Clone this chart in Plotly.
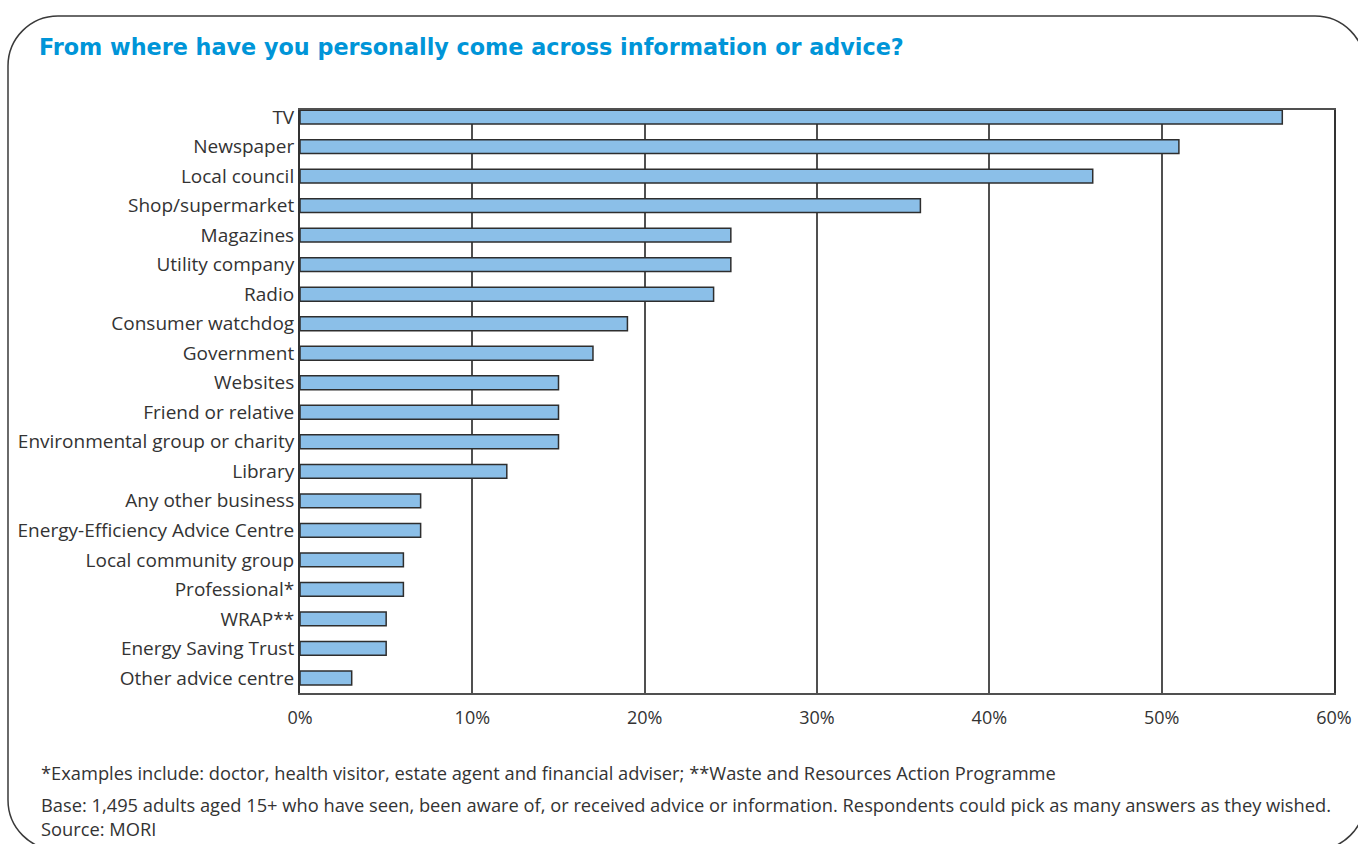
import plotly.graph_objects as go

# Survey responses: share of adults who came across information from each source
categories = [
    "TV", "Newspaper", "Local council", "Shop/supermarket", "Magazines",
    "Utility company", "Radio", "Consumer watchdog", "Government", "Websites",
    "Friend or relative", "Environmental group or charity", "Library",
    "Any other business", "Energy-Efficiency Advice Centre",
    "Local community group", "Professional*", "WRAP**",
    "Energy Saving Trust", "Other advice centre",
]
values = [57, 51, 46, 36, 25, 25, 24, 19, 17, 15, 15, 15, 12, 7, 7, 6, 6, 5, 5, 3]

x_ticks = [0, 10, 20, 30, 40, 50, 60]
x_tick_labels = ["0%", "10%", "20%", "30%", "40%", "50%", "60%"]

title_text = "From where have you personally come across information or advice?"
footnote_text = ("*Examples include: doctor, health visitor, estate agent and financial "
                 "adviser; **Waste and Resources Action Programme")
base_text = ("Base: 1,495 adults aged 15+ who have seen, been aware of, or received advice "
             "or information. Respondents could pick as many answers as they wished.")
source_text = "Source: MORI"

W, H = 1358, 844
ML, MR, MT, MB = 300, 24, 110, 151
PW, PH = W - ML - MR, H - MT - MB

FONT = "Open Sans"
TITLE_FONT = "DejaVu Sans"
TEXT = "#333333"
BLUE = "#0095D8"


def px(x):
    return (x - ML) / PW


def py(y):
    return (H - MB - y) / PH


fig = go.Figure(
    go.Bar(
        x=values,
        y=categories,
        orientation="h",
        width=0.47,
        marker=dict(color="#8BBFE8", line=dict(color="#2E2E2E", width=1.5)),
        hoverinfo="x+y",
    )
)

# Rounded frame around the whole panel
L, T, R, B, r = 8, 16, 1365, 850, 50
k = 0.5523 * r
frame = (
    f"M {px(L)},{py(T + r)} "
    f"C {px(L)},{py(T + r - k)} {px(L + r - k)},{py(T)} {px(L + r)},{py(T)} "
    f"L {px(R - r)},{py(T)} "
    f"C {px(R - r + k)},{py(T)} {px(R)},{py(T + r - k)} {px(R)},{py(T + r)} "
    f"L {px(R)},{py(B - r)} "
    f"C {px(R)},{py(B - r + k)} {px(R - r + k)},{py(B)} {px(R - r)},{py(B)} "
    f"L {px(L + r)},{py(B)} "
    f"C {px(L + r - k)},{py(B)} {px(L)},{py(B - r + k)} {px(L)},{py(B - r)} Z"
)

fig.update_layout(
    width=W,
    height=H,
    margin=dict(l=ML, r=MR, t=MT, b=MB, autoexpand=False),
    paper_bgcolor="white",
    plot_bgcolor="white",
    showlegend=False,
    font=dict(family=FONT, color=TEXT),
    xaxis=dict(
        range=[0, 60],
        tickvals=x_ticks,
        ticktext=x_tick_labels,
        showgrid=True,
        gridcolor="#505050",
        gridwidth=1.5,
        showline=True,
        linecolor="#505050",
        linewidth=1.5,
        mirror=True,
        zeroline=False,
        ticks="",
        automargin=False,
        tickfont=dict(family=FONT, size=18, color=TEXT),
        ticklabelstandoff=8,
    ),
    yaxis=dict(
        range=[19.51, -0.24],
        showgrid=False,
        showline=True,
        linecolor="#333333",
        linewidth=2,
        mirror=True,
        ticks="",
        automargin=False,
        tickfont=dict(family=FONT, size=19, color=TEXT),
        ticklabelstandoff=0,
    ),
    shapes=[
        dict(type="path", xref="paper", yref="paper", path=frame,
             line=dict(color="#3A3A3A", width=1.5), fillcolor="rgba(0,0,0,0)",
             layer="below"),
    ],
    annotations=[
        dict(text=f"<b>{title_text}</b>", xref="paper", yref="paper",
             x=px(37), y=py(47), xanchor="left", yanchor="middle", showarrow=False,
             font=dict(family=TITLE_FONT, size=22.3, color=BLUE)),
        dict(text=footnote_text, xref="paper", yref="paper",
             x=px(39), y=py(772), xanchor="left", yanchor="middle", showarrow=False,
             font=dict(family=FONT, size=18.3, color=TEXT)),
        dict(text=f"{base_text}<br>{source_text}", xref="paper", yref="paper",
             x=px(39), y=py(816), xanchor="left", yanchor="middle", align="left",
             showarrow=False, font=dict(family=FONT, size=18.3, color=TEXT)),
    ],
)

fig.write_html("out.html")
